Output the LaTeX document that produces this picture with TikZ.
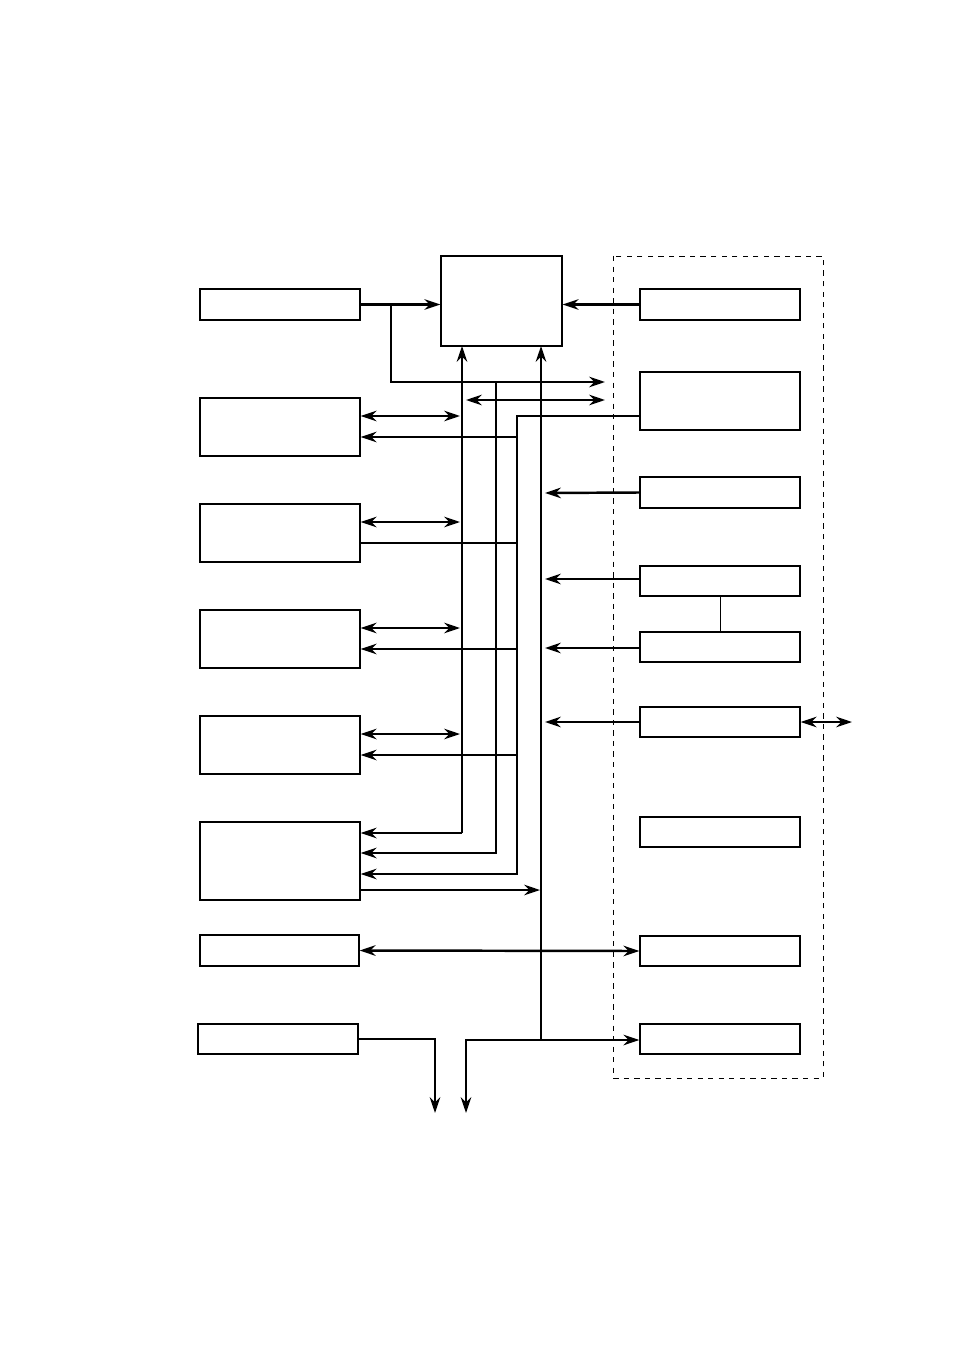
\documentclass[tikz,border=0pt]{standalone}
\usetikzlibrary{arrows.meta}
\tikzset{
  blk/.style={draw, thick, inner sep=0pt},
  bus/.style={line width=1.4pt},
  tip/.style={bus, -{Stealth[length=9pt,width=6pt]}},
  dtip/.style={bus, {Stealth[length=9pt,width=6pt]}-{Stealth[length=9pt,width=6pt]}}
}
\begin{document}
\begin{tikzpicture}[x=0.02cm, y=-0.02cm]
	\useasboundingbox (0,0) rectangle (954,1351);
	% left column
	\node[blk, minimum width=3.2cm, minimum height=0.62cm] (in) at (280,304.5) {};
	\node[blk, minimum width=3.2cm, minimum height=1.16cm] (ma) at (280,427) {};
	\node[blk, minimum width=3.2cm, minimum height=1.16cm] (mb) at (280,533) {};
	\node[blk, minimum width=3.2cm, minimum height=1.16cm] (mc) at (280,639) {};
	\node[blk, minimum width=3.2cm, minimum height=1.16cm] (md) at (280,745) {};
	\node[blk, minimum width=3.2cm, minimum height=1.56cm] (me) at (280,861) {};
	\node[blk, minimum width=3.18cm, minimum height=0.62cm] (io) at (279.5,950.5) {};
	\node[blk, minimum width=3.2cm, minimum height=0.6cm] (out) at (278,1039) {};
	% centre
	\node[blk, minimum width=2.42cm, minimum height=1.8cm] (cpu) at (501.5,301) {};
	% right column
	\draw[dashed] (613,256) rectangle (823,1078);
	\node[blk, minimum width=3.2cm, minimum height=0.62cm] (ra) at (720,304.5) {};
	\node[blk, minimum width=3.2cm, minimum height=1.16cm] (rb) at (720,401) {};
	\node[blk, minimum width=3.2cm, minimum height=0.62cm] (rc) at (720,492.5) {};
	\node[blk, minimum width=3.2cm, minimum height=0.6cm] (rd) at (720,581) {};
	\node[blk, minimum width=3.2cm, minimum height=0.6cm] (re) at (720,647) {};
	\node[blk, minimum width=3.2cm, minimum height=0.6cm] (rf) at (720,722) {};
	\node[blk, minimum width=3.2cm, minimum height=0.6cm] (rg) at (720,832) {};
	\node[blk, minimum width=3.2cm, minimum height=0.6cm] (rh) at (720,951) {};
	\node[blk, minimum width=3.2cm, minimum height=0.6cm] (ri) at (720,1039) {};
	\coordinate (x1) at (852,722);
	\coordinate (o1) at (435,1113);
	\coordinate (o2) at (466,1113);
	\coordinate (ja) at (462,833);
	\coordinate (jb) at (541,1040);

	% top connections
	\draw[tip] (in.east) -- (cpu.west |- in.east);
	\draw[tip] (ra.west) -- (cpu.east |- ra.west);
	\draw[tip] (391,304) -- (391,382) -- (605,382);
	\draw[dtip] (466,400) -- (605,400);
	% buses up to the centre block
	\draw[tip] (ja) -- (462,346);
	\draw[tip] (ja) -- (me.east |- ja);
	\draw[tip] (jb) -- (541,346);
	\draw[tip] (jb) -- (ri.west |- jb);
	\draw[tip] (496,382) |- (me.east |- 0,853);
	\draw[tip] (rb.west |- 0,416) -| (517,874) -- (me.east |- 0,874);
	% left blocks
	\draw[dtip] (ma.east |- 0,416) -- (460,416);
	\draw[tip] (517,437) -- (ma.east |- 0,437);
	\draw[dtip] (mb.east |- 0,522) -- (460,522);
	\draw[bus] (mb.east |- 0,543) -- (517,543);
	\draw[dtip] (mc.east |- 0,628) -- (460,628);
	\draw[tip] (517,649) -- (mc.east |- 0,649);
	\draw[dtip] (md.east |- 0,734) -- (460,734);
	\draw[tip] (517,755) -- (md.east |- 0,755);
	\draw[tip] (me.east |- 0,890) -- (540,890);
	% right blocks
	\draw[tip] (rc.west) -- (545,493);
	\draw[tip] (rd.west |- 0,579) -- (545,579);
	\draw[tip] (re.west |- 0,648) -- (545,648);
	\draw[tip] (rf.west) -- (545,722);
	\draw (rd.south) -- (re.north);
	\draw[dtip] (rf.east) -- (x1);
	\draw[dtip] (io.east) -- (rh.west);
	% outputs
	\draw[tip] (jb) -| (o2);
	\draw[tip] (out.east) -| (o1);
\end{tikzpicture}
\end{document}
